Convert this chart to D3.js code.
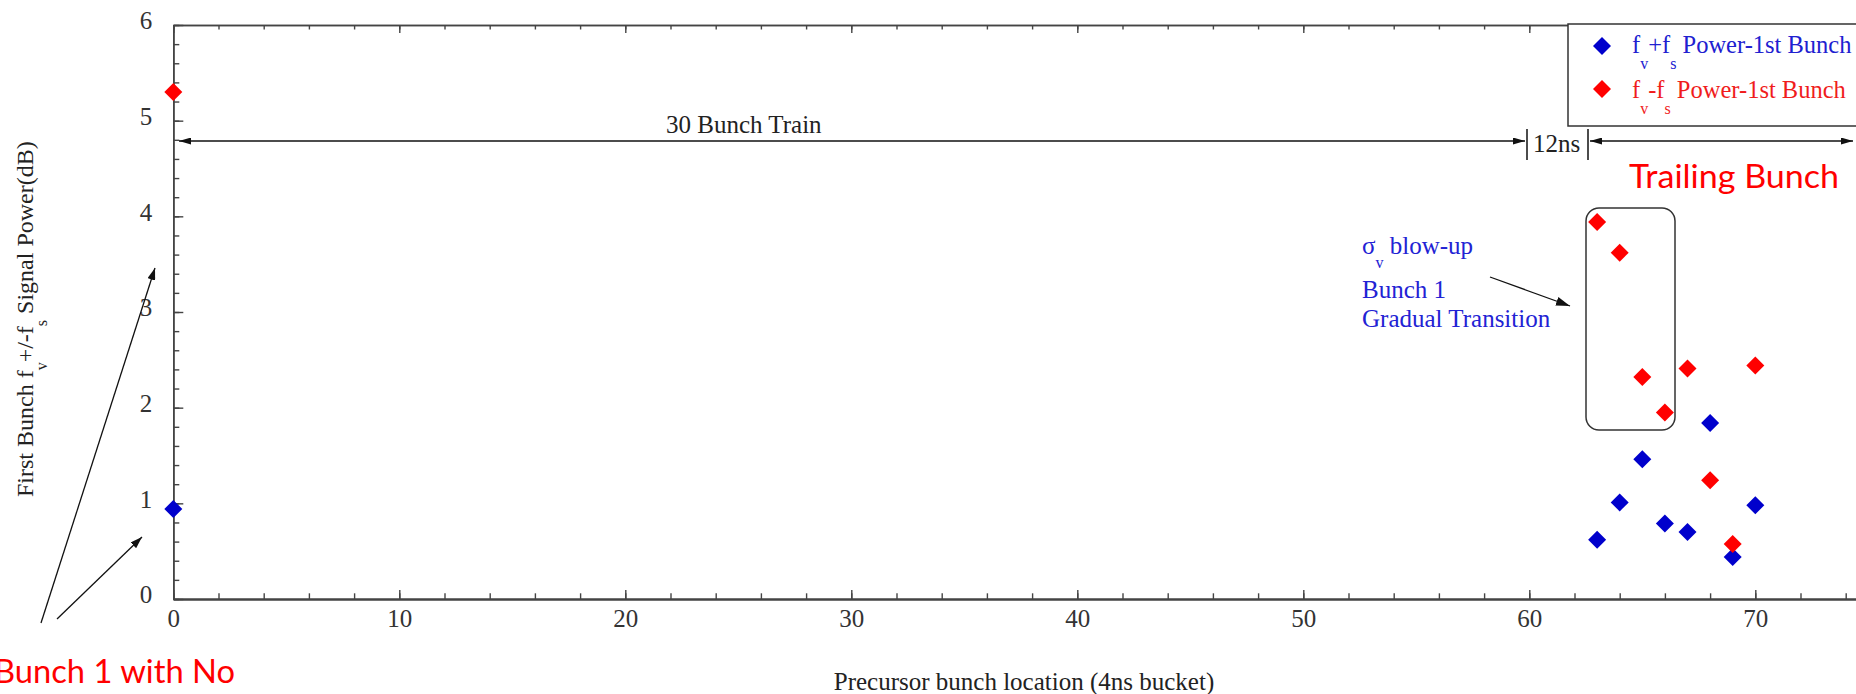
<!DOCTYPE html>
<html><head><meta charset="utf-8">
<script src="https://cdn.jsdelivr.net/npm/d3@7"></script>
<style>html,body{margin:0;padding:0;background:#fff;overflow:hidden}</style>
</head><body>
<svg id="chart" width="1856" height="694" xmlns="http://www.w3.org/2000/svg"></svg>
<script>
// ---- data ----
const bunchX = [0, 63, 64, 65, 66, 67, 68, 69, 70];
const plusPower = [0.94, 0.62, 1.01, 1.46, 0.79, 0.70, 1.84, 0.44, 0.98];   // f_v + f_s
const minusPower = [5.30, 3.94, 3.62, 2.32, 1.95, 2.41, 1.24, 0.575, 2.44]; // f_v - f_s
const xMajorTicks = [0, 10, 20, 30, 40, 50, 60, 70];
const yMajorTicks = [0, 1, 2, 3, 4, 5, 6];
const seriesColors = ["#0000cc", "#ff0000"];
const seriesSigns = ["+f", "-f"];

const serif = "'Liberation Serif','Times New Roman',serif";
const svg = d3.select("#chart");
const x = d3.scaleLinear().domain([0, 80]).range([173.3, 173.3 + 80 * 22.6]);
const y = d3.scaleLinear().domain([0, 6]).range([599, 25]);
const axisColor = "#444";

const defs = svg.append("defs");
function marker(id, w, h) {
  defs.append("marker").attr("id", id)
    .attr("viewBox", `0 0 ${w} ${h}`).attr("refX", w).attr("refY", h / 2)
    .attr("markerWidth", w).attr("markerHeight", h)
    .attr("markerUnits", "userSpaceOnUse").attr("orient", "auto-start-reverse")
    .append("path").attr("d", `M0,0L${w},${h/2}L0,${h}Z`).attr("fill", "#111");
}
marker("ah", 12, 7);
marker("ah2", 14, 9);
marker("ah3", 12, 8);

function styleAxis(g, domainWidth) {
  g.selectAll("path.domain").attr("stroke", axisColor).attr("stroke-width", domainWidth);
  g.selectAll(".tick line").attr("stroke", axisColor).attr("stroke-width", 1.4);
  g.selectAll(".tick text").attr("fill", "#333").attr("font-family", serif).attr("font-size", 25);
}

// bottom axis
const gbMinor = svg.append("g").attr("transform", `translate(0,${y(0)})`)
  .call(d3.axisBottom(x).tickValues(d3.range(0, 81, 2)).tickSize(-5.7).tickSizeOuter(0).tickFormat(""));
styleAxis(gbMinor, 2);
const gbMajor = svg.append("g").attr("transform", `translate(0,${y(0)})`)
  .call(d3.axisBottom(x).tickValues(xMajorTicks).tickSize(-9).tickPadding(10).tickSizeOuter(0).tickFormat(d3.format("d")));
styleAxis(gbMajor, 2);

// top axis
const gtMinor = svg.append("g").attr("transform", `translate(0,${y(6)})`)
  .call(d3.axisTop(x).tickValues(d3.range(0, 81, 2)).tickSize(-4.5).tickSizeOuter(0).tickFormat(""));
styleAxis(gtMinor, 1.6);
const gtMajor = svg.append("g").attr("transform", `translate(0,${y(6)})`)
  .call(d3.axisTop(x).tickValues(xMajorTicks).tickSize(-8).tickSizeOuter(0).tickFormat(""));
styleAxis(gtMajor, 1.6);

// left axis
const glMinor = svg.append("g").attr("transform", `translate(${x(0)},0)`)
  .call(d3.axisLeft(y).tickValues(d3.range(0, 31).map(i => i / 5)).tickSize(-6).tickSizeOuter(0).tickFormat(""));
styleAxis(glMinor, 1.6);
const glMajor = svg.append("g").attr("transform", `translate(${x(0)},0)`)
  .call(d3.axisLeft(y).tickValues(yMajorTicks).tickSize(-10).tickPadding(21).tickSizeOuter(0).tickFormat(d3.format("d")));
styleAxis(glMajor, 1.6);
glMajor.selectAll(".tick text").attr("dy", "0.15em");

// axis titles
svg.append("text").attr("x", 1024).attr("y", 690).attr("text-anchor", "middle")
  .attr("font-family", serif).attr("font-size", 25).attr("fill", "#222")
  .text("Precursor bunch location (4ns bucket)");

const yt = svg.append("text").attr("transform", "translate(33,497) rotate(-90)")
  .attr("font-family", serif).attr("font-size", 24).attr("fill", "#222");
yt.append("tspan").text("First Bunch f");
yt.append("tspan").attr("dy", 14).attr("font-size", 16).text("v");
yt.append("tspan").attr("dy", -14).text("+/-f");
yt.append("tspan").attr("dy", 14).attr("font-size", 16).text("s");
yt.append("tspan").attr("dy", -14).text(" Signal Power(dB)");

// 30 bunch train / 12ns annotations
svg.append("line").attr("x1", 179).attr("y1", 141).attr("x2", 1525).attr("y2", 141)
  .attr("stroke", "#111").attr("stroke-width", 1.6)
  .attr("marker-start", "url(#ah)").attr("marker-end", "url(#ah)");
svg.append("text").attr("x", 666).attr("y", 133).attr("font-family", serif).attr("font-size", 25)
  .attr("fill", "#222").text("30 Bunch Train");
[1527, 1588].forEach(bx => svg.append("line").attr("x1", bx).attr("x2", bx).attr("y1", 129).attr("y2", 160)
  .attr("stroke", "#111").attr("stroke-width", 1.5));
svg.append("text").attr("x", 1533).attr("y", 152).attr("font-family", serif).attr("font-size", 25)
  .attr("fill", "#222").text("12ns");
svg.append("line").attr("x1", 1590).attr("y1", 141).attr("x2", 1853).attr("y2", 141)
  .attr("stroke", "#111").attr("stroke-width", 1.5)
  .attr("marker-start", "url(#ah)").attr("marker-end", "url(#ah)");

svg.append("text").attr("x", 1629).attr("y", 188).attr("font-family", "Lato, 'Open Sans', sans-serif")
  .attr("font-size", 33).attr("fill", "#ff0000").attr("textLength", 210).attr("lengthAdjust", "spacingAndGlyphs")
  .text("Trailing Bunch");

// blow-up annotation
const ann = svg.append("g").attr("font-family", serif).attr("font-size", 25).attr("fill", "#2222d4");
const a1 = ann.append("text").attr("x", 1362).attr("y", 254);
a1.append("tspan").text("σ");
a1.append("tspan").attr("dy", 14).attr("font-size", 16).text("v");
a1.append("tspan").attr("dy", -14).text(" blow-up");
ann.append("text").attr("x", 1362).attr("y", 298).text("Bunch 1");
ann.append("text").attr("x", 1362).attr("y", 327).text("Gradual Transition");
svg.append("line").attr("x1", 1490).attr("y1", 277).attr("x2", 1570).attr("y2", 306)
  .attr("stroke", "#111").attr("stroke-width", 1.3).attr("marker-end", "url(#ah2)");
svg.append("rect").attr("x", 1586).attr("y", 208).attr("width", 89).attr("height", 222).attr("rx", 13)
  .attr("fill", "none").attr("stroke", "#333").attr("stroke-width", 1.5);

// left-bottom arrows
svg.append("line").attr("x1", 41).attr("y1", 623).attr("x2", 155).attr("y2", 268)
  .attr("stroke", "#111").attr("stroke-width", 1.3).attr("marker-end", "url(#ah3)");
svg.append("line").attr("x1", 57).attr("y1", 619).attr("x2", 142).attr("y2", 537)
  .attr("stroke", "#111").attr("stroke-width", 1.3).attr("marker-end", "url(#ah3)");
svg.append("text").attr("x", -6).attr("y", 683).attr("font-family", "Lato, 'Open Sans', sans-serif")
  .attr("font-size", 33).attr("fill", "#ff0000").attr("textLength", 241).attr("lengthAdjust", "spacingAndGlyphs")
  .text("Bunch 1 with No");

// legend
svg.append("rect").attr("x", 1568).attr("y", 24).attr("width", 320).attr("height", 102)
  .attr("fill", "#fff").attr("stroke", "#333").attr("stroke-width", 1.5);
const diamond = d3.symbol().type(d3.symbolSquare).size(162);
seriesColors.forEach((c, i) => {
  const ly = [46, 89][i];
  const by = [53, 97.5][i];
  svg.append("path").attr("d", diamond).attr("fill", c)
    .attr("transform", `translate(1602,${ly}) rotate(45)`);
  const t = svg.append("text").attr("x", 1632).attr("y", by).attr("font-family", serif)
    .attr("font-size", 24.5).attr("fill", i === 0 ? "#2020d0" : "#f01c1c");
  t.append("tspan").text("f");
  t.append("tspan").attr("dy", 16).attr("font-size", 16).text("v");
  t.append("tspan").attr("dy", -16).text(seriesSigns[i]);
  t.append("tspan").attr("dy", 16).attr("font-size", 16).text("s");
  t.append("tspan").attr("dy", -16).text(" Power-1st Bunch");
});

// points
const pts = svg.append("g");
[plusPower, minusPower].forEach((vals, si) => {
  pts.selectAll(null).data(bunchX.map((bx, i) => [bx, vals[i]])).join("path")
    .attr("d", diamond).attr("fill", seriesColors[si])
    .attr("transform", d => `translate(${x(d[0])},${y(d[1])}) rotate(45)`);
});
</script>
</body></html>
